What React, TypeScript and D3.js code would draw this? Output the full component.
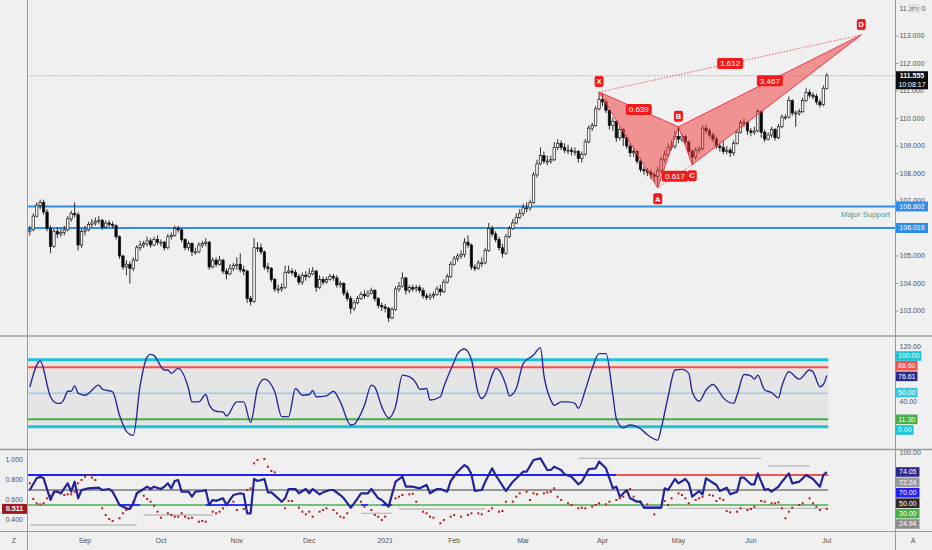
import React, { useEffect, useRef } from 'react';
import * as d3 from 'd3';

// USD/JPY daily, 10 Aug 2020 -> 1 Jul 2021
const FIRST_DAY = '2020-08-10';
const LAST_DAY = '2021-07-01';
const HOLIDAYS = ['2020-12-25', '2021-01-01'];
const FIRST_OPEN = 105.9;

const CLOSE = [
  105.95, 106.45, 106.85, 106.95, 106.6, 106.0, 105.35, 105.9, 105.8, 105.85, 105.95, 106.35, 106.55, 106.5, 105.4, 105.9,
  105.95, 106.15, 106.2, 106.25, 106.3, 106.05, 106.2, 106.15, 106.1, 105.7, 105.0, 104.6, 104.7, 104.55, 104.85, 105.3, 105.4, 105.45, 105.55, 105.4, 105.6, 105.5,
  105.5, 105.3, 105.7, 105.75, 106.0, 105.95, 105.6, 105.3, 105.45, 105.15, 105.15, 105.4, 105.45, 105.5, 104.6, 104.85, 104.7, 104.85, 104.45, 104.35, 104.55, 104.65,
  104.7, 104.5, 104.45, 103.45, 103.35, 105.3, 105.3, 105.15, 104.6, 104.55, 104.15, 103.8, 103.8, 103.85, 104.4, 104.45, 104.4, 104.25, 104.05, 104.3, 104.25,
  104.35, 104.45, 103.85, 104.15, 104.05, 104.15, 104.25, 104.2, 103.95, 104.0, 103.65, 103.45, 103.1, 103.3, 103.45, 103.6, 103.55, 103.65, 103.75, 103.45, 103.2, 103.15,
  103.1, 102.75, 103.05, 103.8, 103.9, 104.2, 103.75, 103.85, 103.8, 103.85, 103.75, 103.55, 103.5, 103.55, 103.6, 103.8, 103.7, 104.05, 104.25, 104.7,
  104.9, 105.0, 105.05, 105.5, 105.4, 104.6, 104.55, 104.75, 104.75, 105.2, 106.0, 105.8, 105.6, 105.3, 105.1, 105.7, 106.0, 106.2, 106.4, 106.55,
  106.75, 106.75, 106.95, 107.95, 108.35, 108.65, 108.45, 108.45, 108.5, 108.95, 109.1, 108.95, 108.85, 108.85, 108.8, 108.8, 108.55, 108.7, 109.15, 109.65, 109.75, 110.35, 110.7,
  110.6, 110.3, 109.75, 109.9, 109.3, 109.6, 109.3, 109.0, 108.75, 108.8, 108.45, 108.15, 108.1, 108.05, 107.95, 107.9, 108.1, 108.5, 108.7, 108.95, 109.0, 109.35,
  109.25, 109.35, 109.15, 108.8, 108.6, 108.85, 108.9, 109.65, 109.55, 109.4, 109.25, 109.0, 108.95, 108.8, 108.85, 108.75, 109.1, 109.5, 109.85, 109.85, 109.55,
  109.5, 109.55, 110.25, 109.5, 109.25, 109.4, 109.6, 109.3, 109.7, 110.05, 110.05, 110.65, 110.2, 110.2, 110.25, 110.65, 110.95, 110.85, 110.8, 110.6, 110.5, 111.1, 111.555,
];

const HIGH = [
  106.1, 106.55, 106.95, 107.05, 107.05, 106.7, 106.1, 106.0, 106.05, 106.0, 106.1, 106.45, 106.65, 106.95, 106.6, 106.0,
  106.1, 106.25, 106.35, 106.4, 106.45, 106.35, 106.3, 106.3, 106.25, 106.15, 105.75, 105.05, 104.85, 104.8, 104.95, 105.4, 105.55, 105.55, 105.7, 105.65, 105.7, 105.75,
  105.6, 105.55, 105.8, 105.85, 106.1, 106.1, 106.0, 105.65, 105.55, 105.5, 105.3, 105.5, 105.55, 105.65, 105.55, 104.95, 104.95, 105.0, 104.9, 104.55, 104.7, 104.75,
  104.95, 105.1, 104.65, 104.5, 103.55, 105.65, 105.5, 105.45, 105.2, 104.75, 104.6, 104.2, 103.95, 104.0, 104.65, 104.65, 104.55, 104.5, 104.35, 104.4, 104.45,
  104.55, 104.6, 104.5, 104.3, 104.25, 104.25, 104.35, 104.35, 104.3, 104.1, 104.05, 103.75, 103.55, 103.4, 103.55, 103.7, 103.75, 103.75, 103.85, 103.8, 103.5, 103.3,
  103.25, 103.15, 103.15, 103.9, 104.05, 104.4, 104.25, 103.95, 103.95, 103.95, 103.95, 103.85, 103.65, 103.65, 103.7, 103.9, 103.95, 104.15, 104.35, 104.8,
  105.0, 105.1, 105.2, 105.65, 105.75, 105.45, 104.7, 104.85, 104.95, 105.3, 106.2, 106.1, 105.9, 105.7, 105.45, 105.8, 106.1, 106.35, 106.55, 106.7,
  106.9, 106.95, 107.05, 108.05, 108.5, 108.95, 108.8, 108.65, 108.65, 109.15, 109.25, 109.2, 109.1, 109.05, 108.95, 108.95, 108.85, 108.8, 109.25, 109.75, 109.85, 110.45, 110.96,
  110.9, 110.7, 110.35, 110.05, 109.95, 109.7, 109.65, 109.4, 109.1, 108.95, 108.85, 108.55, 108.25, 108.2, 108.15, 108.05, 108.25, 108.6, 108.85, 109.1, 109.2, 109.55,
  109.7, 109.45, 109.4, 109.2, 108.9, 108.95, 109.0, 109.75, 109.75, 109.65, 109.5, 109.35, 109.1, 109.2, 109.0, 108.95, 109.2, 109.6, 109.95, 110.0, 109.9,
  109.65, 109.7, 110.35, 110.3, 109.6, 109.5, 109.7, 109.65, 109.8, 110.15, 110.15, 110.8, 110.7, 110.3, 110.35, 110.75, 111.1, 111.05, 110.95, 110.9, 110.7, 111.2, 111.65,
];

const LOW = [
  105.75, 105.9, 106.4, 106.7, 106.5, 105.9, 105.1, 105.3, 105.65, 105.7, 105.75, 105.9, 106.25, 106.4, 105.2, 105.3,
  105.75, 105.9, 106.05, 106.1, 106.15, 105.95, 106.0, 106.05, 106.0, 105.6, 104.9, 104.5, 104.3, 104.0, 104.45, 104.8, 105.2, 105.3, 105.35, 105.3, 105.35, 105.4,
  105.35, 105.2, 105.25, 105.6, 105.7, 105.85, 105.5, 105.2, 105.2, 105.0, 105.05, 105.1, 105.3, 105.35, 104.5, 104.55, 104.6, 104.65, 104.35, 104.15, 104.3, 104.45,
  104.5, 104.4, 104.3, 103.3, 103.2, 103.3, 105.15, 105.05, 104.5, 104.4, 104.05, 103.7, 103.65, 103.7, 103.8, 104.35, 104.3, 104.2, 103.95, 103.95, 104.1,
  104.2, 104.3, 103.7, 103.8, 103.95, 104.0, 104.1, 104.1, 103.85, 103.85, 103.55, 103.35, 102.9, 103.0, 103.25, 103.4, 103.45, 103.5, 103.6, 103.35, 103.1, 103.0,
  102.95, 102.6, 102.7, 103.0, 103.7, 103.85, 103.6, 103.65, 103.7, 103.7, 103.65, 103.45, 103.4, 103.4, 103.45, 103.55, 103.55, 103.65, 104.0, 104.2,
  104.65, 104.8, 104.9, 104.95, 105.3, 104.5, 104.45, 104.5, 104.6, 104.7, 105.15, 105.7, 105.5, 105.2, 104.95, 105.05, 105.65, 105.95, 106.15, 106.35,
  106.45, 106.6, 106.65, 106.9, 107.85, 108.3, 108.35, 108.3, 108.35, 108.45, 108.85, 108.85, 108.75, 108.7, 108.65, 108.65, 108.4, 108.4, 108.65, 109.1, 109.55, 109.7, 110.3,
  110.45, 110.2, 109.6, 109.55, 109.15, 109.2, 109.0, 108.9, 108.6, 108.6, 108.35, 108.05, 107.95, 107.9, 107.8, 107.7, 107.48, 108.0, 108.4, 108.6, 108.85, 108.9,
  109.1, 109.15, 109.05, 108.7, 108.32, 108.5, 108.75, 108.85, 109.45, 109.3, 109.15, 108.9, 108.8, 108.7, 108.7, 108.6, 108.65, 109.05, 109.45, 109.7, 109.4,
  109.35, 109.4, 109.5, 109.3, 109.15, 109.2, 109.3, 109.2, 109.25, 109.65, 109.95, 110.0, 110.1, 109.7, 110.1, 110.2, 110.6, 110.75, 110.7, 110.5, 110.4, 110.45, 111.05,
];

// 114.000 is hidden behind the currency badge, only its ends show
const PRICE_TICKS = [103, 104, 105, 106, 107, 108, 109, 110, 111, 112, 113];
const TOP_TICK = 114;
const CURRENCY = 'JPY';
const SUPPORT = [106.802, 106.018];
const SUPPORT_TEXT = 'Major Support';
const CLOCK = '10:08:17';

// bat pattern: [label, bar index, price]
const PATTERN: [string, number, number][] = [
  ['X', 165, 110.96],
  ['A', 182, 107.48],
  ['B', 188, 109.7],
  ['C', 192, 108.32],
  ['D', 241, 113.04],
];
// ratio labels sit on the segment between two pattern points
const RATIOS: [string, string, string][] = [
  ['0.639', 'X', 'B'],
  ['0.617', 'A', 'C'],
  ['3.467', 'B', 'D'],
  ['1.612', 'X', 'D'],
];

// oscillator pane: [bar, value]
const OSC: [number, number][] = [
  [0, 59], [3, 98], [6, 44.7], [8, 34.8], [9, 35], [10, 42], [11, 53], [12, 53], [13, 61], [14, 50], [16, 47], [20, 62], [21, 56], [24, 52],
  [26, 17], [28, -7], [30, -13], [32, 62], [34, 104], [35, 108], [36, 106], [39, 84.6], [40, 84.6], [41, 79.6], [43, 87], [46, 57], [47, 37],
  [49, 37], [51, 48], [52, 33], [54, 23], [56, 22], [57, 16], [60, 37], [62, 37], [64, 6.4], [66, 57], [68, 71], [71, 52], [73, 15], [75, 15],
  [77, 57], [79, 47], [81, 48], [82, 54], [83, 44.7], [86, 46], [88, 53], [90, 37], [93, 2.5], [94, 3.5], [95, 10], [97, 32], [99, 62], [100, 59],
  [102, 30], [104, 13], [106, 30], [108, 77], [110, 74.6], [112, 64.7], [113, 55.7], [115, 57], [116, 39.8], [119, 44.7], [120, 59.6], [123, 97],
  [124, 109], [126, 116], [128, 100], [130, 50], [131, 42], [132, 47], [134, 77], [135, 87], [136, 84.6], [138, 62], [139, 46], [141, 57], [143, 94],
  [146, 107], [148, 118], [149, 77], [151, 39.8], [152, 32], [154, 37], [156, 37], [158, 34.8], [159, 27.4], [161, 54.7], [163, 87], [165, 109],
  [167, 109], [169, 47], [170, 12], [172, -1.5], [174, 2.5], [177, -3], [179, -12], [182, -20], [183, -2.5], [185, 44.7], [187, 84.6], [189, 85.6],
  [191, 79.6], [192, 52], [194, 38], [196, 54.7], [198, 63], [200, 51], [201, 43], [204, 34.8], [205, 47], [207, 78], [209, 76], [210, 71], [211, 77],
  [213, 54.7], [215, 51], [217, 43], [218, 61], [220, 82], [223, 71], [226, 84.6], [227, 82], [229, 59.6], [230, 63], [231, 76.61],
];
const OSC_LEVELS = [100, 88.6, 50, 11.3, 0];
const OSC_TICKS = [120, 40];
const OSC_LABELS = ['100.00', '88.60', '76.61', '50.00', '11.30', '0.00'];
const OSC_LABEL_VALUES = [100, 88.6, 76.61, 50, 11.3, 0];

// bottom pane (right scale 0-100): [bar, value]
const LOWER_LINE: [number, number][] = [
  [0, 50], [2, 65.6], [3, 67.8], [4, 65.6], [6, 36.7], [7, 47.8], [8, 47.8], [9, 45.6], [11, 58.9], [12, 47.8], [13, 61.1], [14, 38.9], [15, 50],
  [17, 52.2], [20, 53.1], [21, 50], [23, 51.3], [24, 47.8], [25, 38.9], [26, 30], [28, 25.6], [29, 24.7], [30, 32.2], [31, 45.6], [33, 51.3],
  [34, 54.4], [35, 51.3], [36, 54.4], [38, 51.3], [39, 54.4], [40, 58.9], [41, 52.2], [42, 62], [43, 63.3], [44, 47.8], [46, 47.8], [47, 41.1],
  [48, 47.8], [50, 48.7], [51, 50], [52, 30], [53, 36.7], [54, 35.5], [56, 38.9], [57, 30], [58, 36.7], [59, 43.3], [61, 45.6], [62, 44.7],
  [63, 18.9], [64, 18.9], [65, 64.7], [66, 62], [68, 64.7], [69, 46.9], [70, 46.9], [72, 38.9], [73, 34.4], [74, 38.9], [75, 51.3], [77, 51.3],
  [78, 45.6], [80, 51.3], [81, 45.6], [82, 51.3], [84, 44.2], [85, 46.9], [87, 50], [88, 50], [90, 43.3], [91, 38.9], [93, 26.4], [94, 32.2],
  [96, 45.6], [98, 45.6], [99, 51.3], [101, 38.9], [102, 36.7], [104, 27.8], [106, 61.1], [108, 67.8], [109, 54.4], [111, 54.4], [113, 52.2],
  [115, 56.7], [116, 45.6], [118, 51.3], [119, 51.3], [121, 47.8], [122, 62], [124, 74.4], [125, 78.9], [126, 83.3], [127, 80], [128, 70.9],
  [129, 48.7], [131, 50], [132, 61.1], [134, 78.9], [135, 70], [138, 48.7], [140, 61.1], [142, 70], [143, 74.4], [144, 74.4], [146, 90], [148, 92.2],
  [150, 76.7], [151, 76.7], [152, 81.1], [154, 76.7], [155, 70.9], [157, 67.8], [159, 57.6], [160, 61.1], [162, 78], [164, 78.9], [165, 87.8],
  [166, 83.3], [167, 78.9], [169, 52.2], [170, 54.4], [171, 41.1], [173, 50], [174, 38.9], [176, 34.4], [177, 34.4], [178, 26.4], [183, 26.4],
  [184, 52.2], [185, 50], [187, 64.7], [188, 58.9], [190, 64.7], [191, 58.9], [192, 41.1], [194, 48.7], [195, 44.2], [196, 65.6], [199, 56.7],
  [200, 48.7], [202, 53.1], [203, 44.2], [205, 47.8], [206, 66.4], [207, 66.4], [209, 57.6], [210, 57.6], [211, 72.2], [213, 50], [214, 51.3],
  [215, 47.8], [217, 54.4], [218, 61.1], [220, 72.2], [221, 58.9], [223, 61.1], [225, 70], [227, 64.7], [229, 54.4], [230, 70], [231, 74.05],
];

// red dots (left scale): [bar, value]
const LOWER_DOTS: [number, number][] = [
  [0, 0.767], [1, 0.61], [2, 0.567], [3, 0.557], [4, 0.567], [5, 0.617], [6, 0.643], [7, 0.667], [8, 0.683], [9, 0.667], [10, 0.65], [11, 0.657],
  [12, 0.657], [13, 0.683], [14, 0.767], [15, 0.8], [16, 0.833], [17, 0.85], [18, 0.823], [19, 0.8], [21, 0.517], [22, 0.45], [23, 0.41], [24, 0.39],
  [26, 0.417], [27, 0.467], [28, 0.5], [29, 0.543], [30, 0.583], [31, 0.657], [33, 0.643], [34, 0.61], [35, 0.583], [36, 0.543], [37, 0.483],
  [38, 0.423], [40, 0.467], [41, 0.45], [42, 0.433], [43, 0.433], [44, 0.467], [45, 0.433], [46, 0.417], [47, 0.423], [49, 0.383], [50, 0.39],
  [51, 0.383], [53, 0.483], [54, 0.467], [55, 0.483], [56, 0.517], [57, 0.55], [59, 0.583], [60, 0.5], [62, 0.51], [63, 0.7], [64, 0.717],
  [65, 0.967], [66, 1.0], [68, 1.01], [69, 0.933], [70, 0.89], [71, 0.877], [74, 0.517], [75, 0.59], [76, 0.59], [78, 0.523], [79, 0.483],
  [80, 0.457], [81, 0.483], [82, 0.433], [84, 0.483], [85, 0.5], [86, 0.517], [88, 0.5], [89, 0.467], [90, 0.433], [91, 0.423], [92, 0.467],
  [96, 0.583], [97, 0.533], [99, 0.5], [100, 0.45], [101, 0.433], [102, 0.4], [103, 0.433], [106, 0.617], [107, 0.633], [108, 0.65], [110, 0.657],
  [111, 0.663], [112, 0.583], [114, 0.483], [115, 0.467], [116, 0.433], [117, 0.423], [119, 0.367], [120, 0.4], [122, 0.433], [123, 0.45],
  [125, 0.433], [127, 0.45], [128, 0.467], [130, 0.467], [131, 0.457], [133, 0.49], [134, 0.517], [136, 0.483], [137, 0.49], [138, 0.583],
  [140, 0.583], [141, 0.633], [142, 0.667], [144, 0.683], [145, 0.6], [146, 0.667], [147, 0.657], [149, 0.667], [150, 0.677], [151, 0.683],
  [152, 0.717], [153, 0.633], [154, 0.6], [156, 0.567], [157, 0.55], [159, 0.517], [160, 0.523], [161, 0.517], [163, 0.533], [164, 0.55],
  [165, 0.567], [167, 0.557], [168, 0.583], [170, 0.6], [171, 0.617], [172, 0.633], [173, 0.683], [174, 0.71], [175, 0.633], [177, 0.583],
  [179, 0.557], [181, 0.457], [184, 0.59], [185, 0.55], [186, 0.617], [188, 0.667], [189, 0.65], [190, 0.617], [191, 0.567], [193, 0.6],
  [194, 0.617], [195, 0.633], [197, 0.65], [198, 0.643], [199, 0.59], [200, 0.617], [201, 0.6], [202, 0.49], [203, 0.477], [205, 0.483],
  [206, 0.517], [208, 0.5], [209, 0.51], [210, 0.533], [212, 0.59], [213, 0.583], [215, 0.567], [216, 0.567], [217, 0.577], [218, 0.517],
  [219, 0.417], [220, 0.483], [221, 0.523], [223, 0.55], [224, 0.567], [226, 0.617], [227, 0.567], [228, 0.533], [229, 0.5], [231, 0.511],
];

// horizontal segments in the bottom pane: [fromBar, toBar, leftScaleValue]
const GREY_SEGMENTS: [number, number, number][] = [
  [0, 31, 0.35], [33, 53, 0.45], [96, 105, 0.467], [107, 132, 0.51], [159, 212, 1.017], [214, 226, 0.94], [185, 231, 0.517],
];
const BLUE_SEGMENTS: [number, number, number][] = [
  [26, 32, 0.55], [51, 64, 0.55], [96, 98, 0.55], [102, 105, 0.55], [178, 183, 0.523],
];
const LOWER_LEVELS = [70, 50, 30];
const LEVEL70_RED_FROM = 170;
const LOWER_TICKS_LEFT = [1.0, 0.8, 0.6, 0.4];
const LOWER_TICKS_RIGHT = [100];
const LOWER_LABELS = ['74.05', '72.24', '70.00', '50.00', '30.00', '24.94'];

const MONTH_TICKS: [string, string][] = [
  ['2020-09-01', 'Sep'], ['2020-10-01', 'Oct'], ['2020-11-02', 'Nov'], ['2020-12-01', 'Dec'], ['2021-01-04', '2021'],
  ['2021-02-01', 'Feb'], ['2021-03-01', 'Mar'], ['2021-04-01', 'Apr'], ['2021-05-03', 'May'], ['2021-06-01', 'Jun'], ['2021-07-01', 'Jul'],
];

const FONT = "'Liberation Sans', Arial, sans-serif";
const BG = '#f0f0f0';
const AXIS_TXT = '#505050';
const FRAME = '#9c9c9c';
const PAT_RED = '#f21b1b';

function tradingDays(): string[] {
  const out: string[] = [];
  const d = new Date(FIRST_DAY + 'T00:00:00Z');
  const end = new Date(LAST_DAY + 'T00:00:00Z');
  while (d <= end) {
    const s = d.toISOString().slice(0, 10);
    const dow = d.getUTCDay();
    if (dow !== 0 && dow !== 6 && !HOLIDAYS.includes(s)) out.push(s);
    d.setUTCDate(d.getUTCDate() + 1);
  }
  return out;
}

export default function App() {
  const ref = useRef<SVGSVGElement>(null);

  useEffect(() => {
    const el = ref.current;
    if (!el) return;
    const svg = d3.select(el);
    svg.selectAll('*').remove();

    const W = 932;
    const H = 550;
    const L = 27.5; // left axis edge
    const R = 895.5; // right axis edge
    const days = tradingDays();
    const x = d3.scaleLinear().domain([0, days.length - 1]).range([29.8, 826.8]);
    const lineEnd = x(days.length - 1) + 1.5;

    const yP = d3.scaleLinear().domain([103, 113]).range([311, 36]);
    const yO = d3.scaleLinear().domain([0, 100]).range([426.7, 359.7]);
    const yR = d3.scaleLinear().domain([0, 100]).range([527.5, 452.5]);
    const yL = d3.scaleLinear().domain([0.4, 1]).range([520, 460]);

    svg.append('rect').attr('width', W).attr('height', H).attr('fill', BG);

    const defs = svg.append('defs');
    const clip = (id: string, y0: number, y1: number) =>
      defs.append('clipPath').attr('id', id).append('rect').attr('x', L).attr('y', y0).attr('width', R - L).attr('height', y1 - y0);
    clip('c-main', 0, 335);
    clip('c-osc', 337, 448.5);
    clip('c-low', 450.5, 531);

    // ---------- main pane ----------
    const main = svg.append('g').attr('clip-path', 'url(#c-main)');

    main.append('line')
      .attr('x1', L).attr('x2', R).attr('y1', yP(CLOSE[CLOSE.length - 1])).attr('y2', yP(CLOSE[CLOSE.length - 1]))
      .attr('stroke', '#8a8a8a').attr('stroke-width', 1).attr('stroke-dasharray', '1 2');

    main.selectAll('line.sup').data(SUPPORT).join('line')
      .attr('x1', L).attr('x2', R).attr('y1', (d) => yP(d)).attr('y2', (d) => yP(d))
      .attr('stroke', '#2f8ee8').attr('stroke-width', 2);

    const bars = CLOSE.map((c, i) => {
      const o = i === 0 ? FIRST_OPEN : CLOSE[i - 1];
      return { i, o, c, h: Math.max(HIGH[i], o, c), l: Math.min(LOW[i], o, c) };
    });
    const gc = main.append('g');
    gc.selectAll('line.wick').data(bars).join('line')
      .attr('x1', (d) => x(d.i)).attr('x2', (d) => x(d.i))
      .attr('y1', (d) => yP(d.h)).attr('y2', (d) => yP(d.l))
      .attr('stroke', '#1a1a1a').attr('stroke-width', 0.9);
    gc.selectAll('rect.body').data(bars).join('rect')
      .attr('x', (d) => x(d.i) - 1.2).attr('width', 2.4)
      .attr('y', (d) => yP(Math.max(d.o, d.c)))
      .attr('height', (d) => Math.max(0.9, Math.abs(yP(d.o) - yP(d.c))))
      .attr('fill', (d) => (d.c >= d.o ? '#ffffff' : '#000000'))
      .attr('stroke', '#1a1a1a').attr('stroke-width', 0.7);

    // harmonic pattern
    const pt = new Map(PATTERN.map(([k, b, p]) => [k, [x(b), yP(p)] as [number, number]]));
    const P = (k: string) => pt.get(k)!;
    const gp = svg.append('g');
    [['X', 'A', 'B'], ['B', 'C', 'D']].forEach((tri) => {
      gp.append('polygon')
        .attr('points', tri.map((k) => P(k).join(',')).join(' '))
        .attr('fill', 'rgba(242, 60, 60, 0.52)')
        .attr('stroke', '#f23645').attr('stroke-width', 1);
    });
    [['X', 'D'], ['A', 'C']].forEach(([a, b]) => {
      gp.append('line')
        .attr('x1', P(a)[0]).attr('y1', P(a)[1]).attr('x2', P(b)[0]).attr('y2', P(b)[1])
        .attr('stroke', '#f23645').attr('stroke-width', 0.8).attr('stroke-dasharray', '1.5 1.5');
    });
    RATIOS.forEach(([t, a, b]) => {
      const cx = (P(a)[0] + P(b)[0]) / 2;
      const cy = (P(a)[1] + P(b)[1]) / 2;
      const w = t.length * 4.4 + 4;
      gp.append('rect').attr('x', cx - w / 2).attr('y', cy - 5.5).attr('width', w).attr('height', 11).attr('rx', 2).attr('fill', PAT_RED);
      gp.append('text').attr('x', cx).attr('y', cy).attr('dy', '0.35em').attr('text-anchor', 'middle')
        .attr('font-family', FONT).attr('font-size', 8).attr('fill', '#fff').text(t);
    });
    PATTERN.forEach(([k]) => {
      const [px, py] = P(k);
      const below = k === 'A' || k === 'C';
      const cy = below ? py + 11 : py - 10.5;
      gp.append('rect').attr('x', px - 4.5).attr('y', cy - 5.5).attr('width', 9).attr('height', 11).attr('rx', 2).attr('fill', PAT_RED);
      gp.append('text').attr('x', px).attr('y', cy).attr('dy', '0.36em').attr('text-anchor', 'middle')
        .attr('font-family', FONT).attr('font-size', 7.5).attr('font-weight', 700).attr('fill', '#fff').text(k);
    });

    svg.append('text').attr('x', 890).attr('y', yP((SUPPORT[0] + SUPPORT[1]) / 2) - 3).attr('dy', '0.35em')
      .attr('text-anchor', 'end').attr('font-family', FONT).attr('font-size', 7.8).attr('fill', '#4a9a8a').text(SUPPORT_TEXT);

    // price axis
    const ga = svg.append('g');
    PRICE_TICKS.forEach((t) => {
      ga.append('line').attr('x1', R).attr('x2', R + 3).attr('y1', yP(t)).attr('y2', yP(t)).attr('stroke', FRAME);
      ga.append('text').attr('x', 899.5).attr('y', yP(t)).attr('dy', '0.35em')
        .attr('font-family', FONT).attr('font-size', 7).attr('fill', AXIS_TXT).text(d3.format('.3f')(t));
    });
    // top tick split around the currency badge
    const topStr = d3.format('.3f')(TOP_TICK);
    ga.append('text').attr('x', 899.5).attr('y', yP(TOP_TICK)).attr('dy', '0.35em')
      .attr('font-family', FONT).attr('font-size', 7).attr('fill', AXIS_TXT).text(topStr.slice(0, 2));
    ga.append('rect').attr('x', 907.5).attr('y', yP(TOP_TICK) - 4.5).attr('width', 13).attr('height', 9).attr('rx', 1).attr('fill', '#e2e2e2');
    ga.append('text').attr('x', 914).attr('y', yP(TOP_TICK)).attr('dy', '0.35em').attr('text-anchor', 'middle')
      .attr('font-family', FONT).attr('font-size', 6).attr('fill', '#777').text(CURRENCY);
    ga.append('text').attr('x', 921.5).attr('y', yP(TOP_TICK)).attr('dy', '0.35em')
      .attr('font-family', FONT).attr('font-size', 7).attr('fill', AXIS_TXT).text(topStr.slice(-1));
    SUPPORT.forEach((s) => {
      ga.append('rect').attr('x', 896).attr('y', yP(s) - 5).attr('width', 32).attr('height', 10).attr('fill', '#2f8ee8');
      ga.append('text').attr('x', 912).attr('y', yP(s)).attr('dy', '0.35em').attr('text-anchor', 'middle')
        .attr('font-family', FONT).attr('font-size', 7).attr('fill', '#fff').text(d3.format('.3f')(s));
    });
    const last = CLOSE[CLOSE.length - 1];
    ga.append('rect').attr('x', 895.5).attr('y', yP(last) - 4.5).attr('width', 32.5).attr('height', 18).attr('fill', '#0c0c0c');
    ga.append('text').attr('x', 912).attr('y', yP(last)).attr('dy', '0.35em').attr('text-anchor', 'middle')
      .attr('font-family', FONT).attr('font-size', 7).attr('font-weight', 700).attr('fill', '#fff').text(d3.format('.3f')(last));
    ga.append('text').attr('x', 912).attr('y', yP(last) + 8.5).attr('dy', '0.35em').attr('text-anchor', 'middle')
      .attr('font-family', FONT).attr('font-size', 7).attr('fill', '#fff').text(CLOCK);

    // ---------- oscillator pane ----------
    const osc = svg.append('g').attr('clip-path', 'url(#c-osc)');
    osc.append('rect').attr('x', L).attr('width', lineEnd - L).attr('y', yO(100)).attr('height', yO(0) - yO(100))
      .attr('fill', 'rgba(0,0,0,0.045)');
    const oscStyle: Record<number, [string, number]> = {
      100: ['#1fc3d6', 3], 88.6: ['#f4504a', 2], 50: ['#5ec8ee', 1], 11.3: ['#46ad4a', 2], 0: ['#1fc3d6', 3],
    };
    OSC_LEVELS.forEach((v) => {
      osc.append('line').attr('x1', L).attr('x2', lineEnd).attr('y1', yO(v)).attr('y2', yO(v))
        .attr('stroke', oscStyle[v][0]).attr('stroke-width', oscStyle[v][1]);
    });
    osc.append('path').datum(OSC)
      .attr('d', d3.line<[number, number]>().x((d) => x(d[0])).y((d) => yO(d[1])).curve(d3.curveMonotoneX))
      .attr('fill', 'none').attr('stroke', '#2b2b95').attr('stroke-width', 1.4);

    OSC_TICKS.forEach((t) => {
      svg.append('text').attr('x', 899.5).attr('y', yO(t) + (t === 40 ? 1.5 : 0)).attr('dy', '0.35em')
        .attr('font-family', FONT).attr('font-size', 7).attr('fill', AXIS_TXT).text(d3.format('.2f')(t));
    });
    const oscColors = ['#1fc3d6', '#f4504a', '#2b2b8a', '#3ec6da', '#46ad4a', '#1fc3d6'];
    const oscNudge = [-3.7, -1.6, 1, -0.6, 0.2, 3.3];
    OSC_LABELS.forEach((t, k) => {
      const cy = yO(OSC_LABEL_VALUES[k]) + oscNudge[k];
      const w = t.length * 3.9 + 2;
      svg.append('rect').attr('x', 896).attr('y', cy - 4.8).attr('width', w).attr('height', 9.6).attr('fill', oscColors[k]);
      svg.append('text').attr('x', 896 + w / 2).attr('y', cy).attr('dy', '0.35em').attr('text-anchor', 'middle')
        .attr('font-family', FONT).attr('font-size', 7).attr('fill', '#fff').text(t);
    });

    // ---------- lower pane ----------
    const low = svg.append('g').attr('clip-path', 'url(#c-low)');
    GREY_SEGMENTS.forEach(([a, b, v]) => {
      low.append('line').attr('x1', x(a)).attr('x2', x(b)).attr('y1', yL(v)).attr('y2', yL(v))
        .attr('stroke', '#bdbdbd').attr('stroke-width', 1.3);
    });
    const lowStyle: Record<number, [string, number]> = { 70: ['#2323f0', 2], 50: ['#7a7a7a', 1.5], 30: ['#4caf50', 1.5] };
    LOWER_LEVELS.forEach((v) => {
      const split = v === 70 ? x(LEVEL70_RED_FROM) : lineEnd;
      low.append('line').attr('x1', L).attr('x2', split).attr('y1', yR(v)).attr('y2', yR(v))
        .attr('stroke', lowStyle[v][0]).attr('stroke-width', lowStyle[v][1]);
      if (v === 70) {
        low.append('line').attr('x1', split).attr('x2', lineEnd).attr('y1', yR(v)).attr('y2', yR(v))
          .attr('stroke', '#f0554f').attr('stroke-width', 2);
      }
    });
    BLUE_SEGMENTS.forEach(([a, b, v]) => {
      low.append('line').attr('x1', x(a)).attr('x2', x(b)).attr('y1', yL(v)).attr('y2', yL(v))
        .attr('stroke', '#2a3cf5').attr('stroke-width', 2);
    });
    low.selectAll('rect.dot').data(LOWER_DOTS).join('rect')
      .attr('x', (d) => x(d[0]) - 1).attr('y', (d) => yL(d[1]) - 1).attr('width', 2).attr('height', 2)
      .attr('fill', '#b3201c');
    low.append('path').datum(LOWER_LINE)
      .attr('d', d3.line<[number, number]>().x((d) => x(d[0])).y((d) => yR(d[1])))
      .attr('fill', 'none').attr('stroke', '#22229a').attr('stroke-width', 2.2).attr('stroke-linejoin', 'round');

    LOWER_TICKS_LEFT.forEach((t) => {
      svg.append('text').attr('x', 23).attr('y', yL(t)).attr('dy', '0.35em').attr('text-anchor', 'end')
        .attr('font-family', FONT).attr('font-size', 7).attr('fill', AXIS_TXT).text(d3.format('.3f')(t));
    });
    const lastDot = LOWER_DOTS[LOWER_DOTS.length - 1][1];
    svg.append('rect').attr('x', 2).attr('y', yL(lastDot) - 5).attr('width', 25).attr('height', 10).attr('fill', '#9e1b1b');
    svg.append('text').attr('x', 14.5).attr('y', yL(lastDot)).attr('dy', '0.35em').attr('text-anchor', 'middle')
      .attr('font-family', FONT).attr('font-size', 7).attr('font-weight', 700).attr('fill', '#fff').text(d3.format('.3f')(lastDot));

    LOWER_TICKS_RIGHT.forEach((t) => {
      svg.append('text').attr('x', 899.5).attr('y', yR(t)).attr('dy', '0.35em')
        .attr('font-family', FONT).attr('font-size', 7).attr('fill', AXIS_TXT).text(d3.format('.2f')(t));
    });
    const lowColors = ['#2b2b8a', '#9a9a9a', '#2323f0', '#2a2a2a', '#4caf50', '#8e8e8e'];
    let prevY = -Infinity;
    LOWER_LABELS.forEach((t, k) => {
      const cy = Math.max(yR(+t), prevY + 10.4);
      prevY = cy;
      const w = t.length * 3.9 + 4;
      svg.append('rect').attr('x', 896).attr('y', cy - 4.8).attr('width', w).attr('height', 9.6).attr('fill', lowColors[k]);
      svg.append('text').attr('x', 896 + w / 2).attr('y', cy).attr('dy', '0.35em').attr('text-anchor', 'middle')
        .attr('font-family', FONT).attr('font-size', 7).attr('fill', '#fff').text(t);
    });

    // ---------- frame ----------
    const fr = svg.append('g').attr('stroke', FRAME);
    fr.append('line').attr('x1', L).attr('x2', L).attr('y1', 0).attr('y2', H).attr('stroke-width', 1);
    fr.append('line').attr('x1', R).attr('x2', R).attr('y1', 0).attr('y2', H).attr('stroke-width', 1);
    [336, 449.5].forEach((y) => fr.append('line').attr('x1', 0).attr('x2', W).attr('y1', y).attr('y2', y).attr('stroke-width', 1.6));
    fr.append('line').attr('x1', 0).attr('x2', W).attr('y1', 531.5).attr('y2', 531.5).attr('stroke-width', 1.2);

    // time axis
    MONTH_TICKS.forEach(([d, t]) => {
      const i = days.indexOf(d);
      if (i < 0) return;
      svg.append('text').attr('x', x(i)).attr('y', 540.5).attr('dy', '0.35em').attr('text-anchor', 'middle')
        .attr('font-family', FONT).attr('font-size', 7).attr('fill', AXIS_TXT).text(t);
    });
    svg.append('text').attr('x', 14).attr('y', 540.5).attr('dy', '0.35em').attr('text-anchor', 'middle')
      .attr('font-family', FONT).attr('font-size', 7).attr('fill', AXIS_TXT).text('Z');
    svg.append('text').attr('x', 913).attr('y', 540.5).attr('dy', '0.35em').attr('text-anchor', 'middle')
      .attr('font-family', FONT).attr('font-size', 7).attr('fill', AXIS_TXT).text('A');
  }, []);

  return (
    <div style={{ position: 'absolute', left: 0, top: 0, width: 932, height: 550 }}>
      <svg ref={ref} width={932} height={550} style={{ display: 'block' }} aria-label="USDJPY daily bat pattern" />
    </div>
  );
}
